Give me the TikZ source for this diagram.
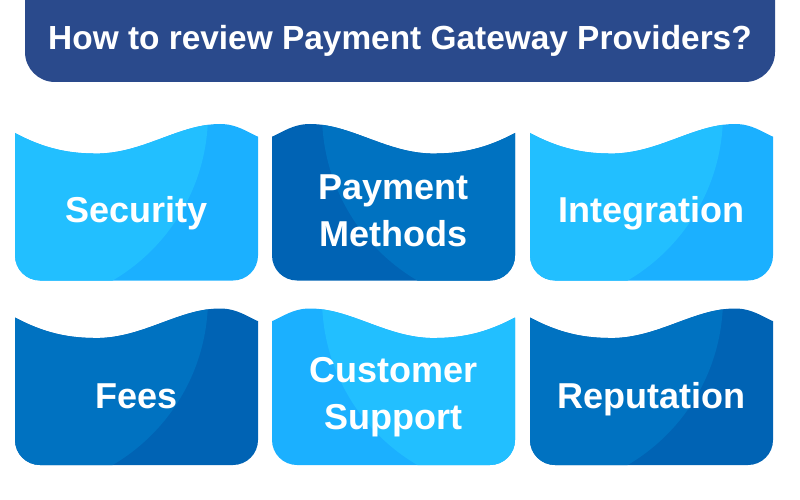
\documentclass[tikz,border=0pt]{standalone}
\usepackage{fontspec}
\setmainfont{Liberation Sans}
\usetikzlibrary{positioning}
\definecolor{titleBlue}{HTML}{2A4A8C}
\definecolor{skyLight}{HTML}{22BFFF}
\definecolor{skyDeep}{HTML}{1BB0FF}
\definecolor{navyLight}{HTML}{0072C1}
\definecolor{navyDeep}{HTML}{0063B4}

\begin{document}
\begin{tikzpicture}[
    x=1pt, y=-1pt,
    heading/.style={text=white, anchor=base, font=\bfseries\fontsize{33.4}{40}\selectfont},
    cardtext/.style={text=white, align=center, font=\bfseries\fontsize{36}{47}\selectfont},
    pics/wavecard/.style 2 args={code={
      \begin{scope}
        \clip (-121.5,9) .. controls (-91.5,25) and (-66.5,30) .. (-36.5,29.5)
          .. controls (8.5,28) and (43.5,0) .. (83.5,0)
          .. controls (100.5,0) and (110.5,8) .. (121.5,12.7)
          -- (121.5,131.5) .. controls (121.5,145.3) and (110.3,156.5) .. (96.5,156.5)
          -- (-96.5,156.5) .. controls (-110.3,156.5) and (-121.5,145.3) .. (-121.5,131.5) -- cycle;
        \fill[#1] (-125,-5) rectangle (125,160);
        \fill[#2] (-121.5,-10) circle[radius=193];
      \end{scope}
    }}
]
\useasboundingbox (0,0) rectangle (800,500);

% bandeau du titre
\fill[titleBlue] (25,0) -- (25,52) .. controls (25,68.6) and (38.4,82) .. (55,82)
  -- (745,82) .. controls (761.6,82) and (775,68.6) .. (775,52) -- (775,0) -- cycle;
\node[heading] (title) at (400,50) {How to review Payment Gateway Providers?};

% cartes
\pic at (136.5,124) {wavecard={skyDeep}{skyLight}};
\pic[xscale=-1] at (393.5,124) {wavecard={navyDeep}{navyLight}};
\pic at (651.5,124) {wavecard={skyDeep}{skyLight}};
\pic at (136.5,308.5) {wavecard={navyDeep}{navyLight}};
\pic[xscale=-1] at (393.5,308.5) {wavecard={skyDeep}{skyLight}};
\pic at (651.5,308.5) {wavecard={navyDeep}{navyLight}};

\node[cardtext, anchor=base] (security) at (136.5,222) {Security};
\node[cardtext] (methods) at (393.5,211) {Payment\\Methods};
\node[cardtext, anchor=base] (integration) at (651.5,222) {Integration};
\node[cardtext, anchor=base] (fees) at (136.5,408) {Fees};
\node[cardtext] (support) at (393.5,397) {Customer\\Support};
\node[cardtext, anchor=base] (reputation) at (651.5,408) {Reputation};
\end{tikzpicture}
\end{document}
